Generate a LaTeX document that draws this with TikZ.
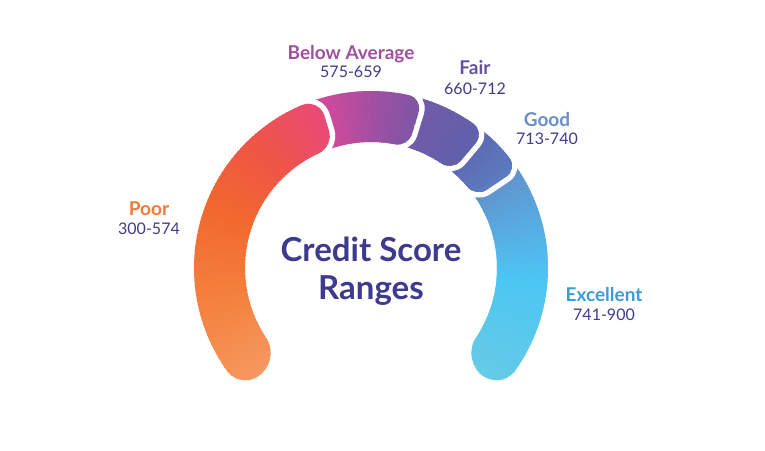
\documentclass[tikz,border=0pt]{standalone}
\usepackage{fontspec}
\setmainfont{Lato}
\usetikzlibrary{positioning,calc}

\definecolor{poorA}{HTML}{F69A62}
\definecolor{poorB}{HTML}{F4813D}
\definecolor{poorC}{HTML}{F2682E}
\definecolor{poorD}{HTML}{EE5548}
\definecolor{poorE}{HTML}{E8497C}
\definecolor{baA}{HTML}{DC4697}
\definecolor{baB}{HTML}{D7489C}
\definecolor{baC}{HTML}{A24FA1}
\definecolor{baD}{HTML}{7A57A6}
\definecolor{fairA}{HTML}{7757A7}
\definecolor{fairB}{HTML}{725AA8}
\definecolor{fairC}{HTML}{5F61AB}
\definecolor{goodA}{HTML}{5B63AE}
\definecolor{goodB}{HTML}{5D6BB4}
\definecolor{goodC}{HTML}{5C7EC2}
\definecolor{excA}{HTML}{6488C6}
\definecolor{excB}{HTML}{6194CE}
\definecolor{excC}{HTML}{55B0E6}
\definecolor{excD}{HTML}{4CC6F3}
\definecolor{excE}{HTML}{67CBE6}
\definecolor{poorlbl}{HTML}{F47A3A}
\definecolor{balbl}{HTML}{A050A0}
\definecolor{fairlbl}{HTML}{6652A1}
\definecolor{goodlbl}{HTML}{6A8ECB}
\definecolor{exclbl}{HTML}{3D9BD6}
\definecolor{rangec}{HTML}{3F3C8D}
\definecolor{titlec}{HTML}{3E3A8E}

\def\Rout{177}
\def\Rin{126}

% colour wedges from angle #1 to angle #2
\newcommand{\gwedge}[4]{%
  \pgfmathsetmacro{\gstep}{(#2-#1)/20}%
  \foreach \k in {0,...,19}{
    \pgfmathtruncatemacro{\pct}{100*(\k+0.5)/20}
    \pgfmathsetmacro{\wa}{#1+\k*\gstep}
    \pgfmathsetmacro{\wb}{#1+(\k+1)*\gstep}
    \filldraw[#4!\pct!#3, line width=0.6pt] (0,0) -- (\wa:250) -- (\wb:250) -- cycle;
  }%
}

% one band of the gauge: start, end, start corner, end corner, fills
\newcommand{\drawseg}[5]{%
  \pgfmathsetmacro{\aOs}{#1-#3*57.2958/\Rout}%
  \pgfmathsetmacro{\aIs}{#1-#3*57.2958/\Rin}%
  \pgfmathsetmacro{\aOe}{#2+#4*57.2958/\Rout}%
  \pgfmathsetmacro{\aIe}{#2+#4*57.2958/\Rin}%
  \def\segshape{(\aOs:\Rout) arc[start angle=\aOs, end angle=\aOe, radius=\Rout]
    .. controls ($(\aOe:\Rout)!0.552!(#2:\Rout)$) and ($(#2:\Rout-#4)!0.552!(#2:\Rout)$) .. (#2:\Rout-#4)
    -- (#2:\Rin+#4)
    .. controls ($(#2:\Rin+#4)!0.552!(#2:\Rin)$) and ($(\aIe:\Rin)!0.552!(#2:\Rin)$) .. (\aIe:\Rin)
    arc[start angle=\aIe, end angle=\aIs, radius=\Rin]
    .. controls ($(\aIs:\Rin)!0.552!(#1:\Rin)$) and ($(#1:\Rin+#3)!0.552!(#1:\Rin)$) .. (#1:\Rin+#3)
    -- (#1:\Rout-#3)
    .. controls ($(#1:\Rout-#3)!0.552!(#1:\Rout)$) and ($(\aOs:\Rout)!0.552!(#1:\Rout)$) .. (\aOs:\Rout) -- cycle}%
  \draw[gapline] \segshape;
  \begin{scope}
    \clip \segshape;
    #5
  \end{scope}
}

\begin{document}
\begin{tikzpicture}[x=1pt,y=1pt,
  namelbl/.style = {font=\fontsize{19}{19}\selectfont\bfseries, anchor=base, inner sep=0pt},
  rangelbl/.style = {font=\fontsize{16}{16}\selectfont, text=rangec, inner sep=0pt},
  titlelbl/.style = {font=\fontsize{33}{33}\selectfont\bfseries, text=titlec, anchor=base, inner sep=0pt},
  gapline/.style = {draw=white, line width=11pt, line join=round}]
     \useasboundingbox (0,0) rectangle (765,450);
     \fill[white] (0,0) rectangle (765,450);

     \begin{scope}[shift={(371,182)}]
       \drawseg{50}{-44}{12}{25}{\gwedge{52}{33}{excA}{excB}\gwedge{33}{12}{excB}{excC}\gwedge{12}{-5}{excC}{excD}\gwedge{-5}{-46}{excD}{excE}}
       \drawseg{65}{34}{12}{14}{\gwedge{67}{48}{goodA}{goodB}\gwedge{48}{32}{goodB}{goodC}}
       \drawseg{89}{50}{12}{14}{\gwedge{91}{74}{fairA}{fairB}\gwedge{74}{48}{fairB}{fairC}}
       \drawseg{124}{73}{12}{14}{\gwedge{126}{108}{baA}{baB}\gwedge{108}{90}{baB}{baC}\gwedge{90}{71}{baC}{baD}}
       \drawseg{224}{107}{25}{18}{\gwedge{226}{192}{poorA}{poorB}\gwedge{192}{160}{poorB}{poorC}\gwedge{160}{132}{poorC}{poorD}\gwedge{132}{105}{poorD}{poorE}}
     \end{scope}

     \node[titlelbl] (title1) at (371,188) {Credit Score};
     \node[titlelbl] (title2) [below=38pt of title1.base, anchor=base] {Ranges};

     \node[namelbl, text=poorlbl] (poor) at (149,234) {Poor};
     \node[rangelbl] (poorrng) [below=19pt of poor.base, anchor=base] {300-574};
     \node[namelbl, text=balbl] (below) at (351,390) {Below Average};
     \node[rangelbl] (belowrng) [below=18pt of below.base, anchor=base] {575-659};
     \node[namelbl, text=fairlbl] (fair) at (475,375) {Fair};
     \node[rangelbl] (fairrng) [below=20pt of fair.base, anchor=base] {660-712};
     \node[namelbl, text=goodlbl] (good) at (547,323) {Good};
     \node[rangelbl] (goodrng) [below=18pt of good.base, anchor=base] {713-740};
     \node[namelbl, text=exclbl] (exc) at (604,149) {Excellent};
     \node[rangelbl] (excrng) [below=19pt of exc.base, anchor=base] {741-900};
\end{tikzpicture}
\end{document}
